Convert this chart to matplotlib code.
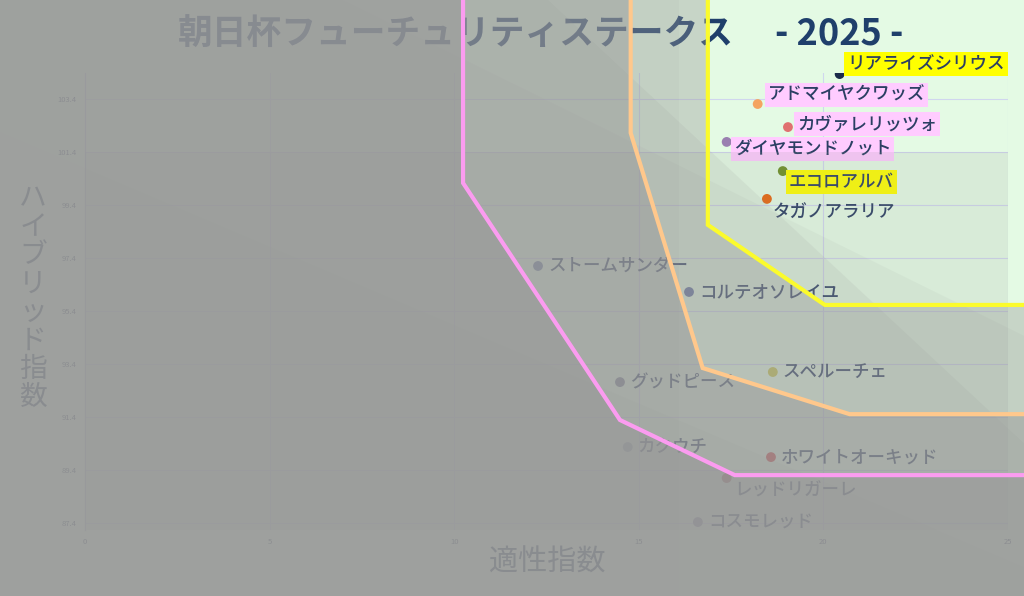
import matplotlib
matplotlib.use('Agg')
import matplotlib.pyplot as plt
from matplotlib.patches import Polygon, Rectangle
import numpy as np

plt.rcParams['font.family'] = ['Noto Sans CJK JP', 'DejaVu Sans']

# horses: aptitude index (x), hybrid index (y)
names = ['リアライズシリウス', 'アドマイヤクワッズ', 'カヴァレリッツォ', 'ダイヤモンドノット',
         'エコロアルバ', 'タガノアラリア', 'ストームサンダー', 'コルテオソレイユ',
         'スペルーチェ', 'グッドピース', 'カクウチ', 'ホワイトオーキッド',
         'レッドリガーレ', 'コスモレッド']
aptitude = [20.44, 18.22, 19.04, 17.38, 18.90, 18.47, 12.27, 16.36,
            18.63, 14.49, 14.70, 18.58, 17.38, 16.60]
hybrid = [104.34, 103.21, 102.34, 101.78, 100.68, 99.63, 97.10, 96.12,
          93.10, 92.72, 90.27, 89.89, 89.10, 87.44]
dot_colors = ['#1b2a4a', '#f4a460', '#e07070', '#9a7fb0', '#6b8e23', '#e8650c',
              '#6a7fa0', '#6070a0', '#c8c850', '#707890', '#8aa0b0', '#d04040',
              '#a05050', '#8080a0']
highlight = {'リアライズシリウス': '#ffff00', 'エコロアルバ': '#ffff00',
             'アドマイヤクワッズ': '#ffccff', 'カヴァレリッツォ': '#ffccff',
             'ダイヤモンドノット': '#ffccff'}
# label offsets in pixels (dx, dy, screen y down)
label_off = {'リアライズシリウス': (8, -10), 'アドマイヤクワッズ': (10, -9),
             'カヴァレリッツォ': (9, -3), 'ダイヤモンドノット': (7, 7),
             'エコロアルバ': (6, 11), 'タガノアラリア': (6, 14),
             'レッドリガーレ': (8, 13)}

xticks = [0, 5, 10, 15, 20, 25]
yticks = [87.4, 89.4, 91.4, 93.4, 95.4, 97.4, 99.4, 101.4, 103.4]

# frontier lines (inner vertices, extended to the figure top and right edges)
pink_x = [10.24, 10.24, 14.49, 17.60]
pink_y = [None, 100.23, 91.29, 89.21]
orange_x = [14.78, 14.78, 16.73, 20.71]
orange_y = [None, 102.12, 93.25, 91.51]
yellow_x = [16.87, 16.87, 20.04]
yellow_y = [None, 98.65, 95.63]

W, H = 1024, 596
fig = plt.figure(figsize=(W / 100, H / 100), dpi=100)
fig.patch.set_facecolor('#e4fae4')
ax = fig.add_axes([85 / W, 1 - 530 / H, (1008 - 85) / W, (530 - 73) / H])
ax.set_facecolor('none')
ax.set_xlim(0, 25)
ax.set_ylim(87.14, 104.38)

for s in ['top', 'right', 'bottom']:
    ax.spines[s].set_visible(False)
ax.spines['left'].set_color('#b8bcd8')
ax.spines['left'].set_linewidth(0.8)
ax.set_xticks(xticks)
ax.set_yticks(yticks)
ax.set_xticklabels([str(t) for t in xticks])
ax.set_yticklabels([f'{t:.1f}' for t in yticks])
ax.tick_params(length=0, labelsize=5.5, labelcolor='#445070', pad=6)
ax.grid(True, color='#d0d6ee', linewidth=0.8)
ax.set_axisbelow(True)

# points and labels
ax.scatter(aptitude, hybrid, s=50, c=dot_colors, zorder=4, linewidths=0)
for n, x, y in zip(names, aptitude, hybrid):
    dx, dy = label_off.get(n, (10, 0))
    kw = {}
    if n in highlight:
        kw['bbox'] = dict(boxstyle='square,pad=0.18', fc=highlight[n], ec='none')
    ax.annotate(n, (x, y), xytext=(dx * 0.72, -dy * 0.72), textcoords='offset points',
                ha='left', va='center', fontsize=12.6, color='#2b3f63',
                fontweight='medium', zorder=5, annotation_clip=False, **kw)

# titles and axis labels (drawn inside the axes so overlays cover them)
ax.text(178 / W, 1 - 34 / H, '朝日杯フューチュリティステークス', transform=fig.transFigure,
        ha='left', va='center', fontsize=25, fontweight='bold', color='#1f3f6b',
        zorder=3, clip_on=False)
ax.text(775 / W, 1 - 34 / H, '- 2025 -', transform=fig.transFigure,
        ha='left', va='center', fontsize=26, fontweight='bold', color='#1f3f6b',
        zorder=3, clip_on=False)
ax.text(33 / W, 1 - 298 / H, '\n'.join('ハイブリッド指数'), transform=fig.transFigure,
        ha='center', va='center', fontsize=20, color='#2b3f63', linespacing=0.93,
        zorder=3, clip_on=False)
ax.text(547 / W, 1 - 563 / H, '適性指数', transform=fig.transFigure,
        ha='center', va='center', fontsize=21, color='#2b3f63', zorder=3, clip_on=False)

# figure extents in data coordinates
fig.canvas.draw()
inv = ax.transData.inverted()
fx0, fy0 = inv.transform((0, 0))
fx1, fy1 = inv.transform((W, H))
fx0, fy0, fx1, fy1 = fx0 - 0.5, fy0 - 0.5, fx1 + 0.5, fy1 + 0.5


def frontier(xs, ys):
    pts = [(xs[0], fy1)] + list(zip(xs[1:], ys[1:]))
    pts.append((fx1, ys[-1]))
    return pts


def outside(pts):
    return pts + [(fx1, fy0), (fx0, fy0), (fx0, fy1)]


def below_line(p, q):
    k = (q[1] - p[1]) / (q[0] - p[0])
    ya = p[1] + k * (fx0 - p[0])
    yb = p[1] + k * (fx1 - p[0])
    return [(fx0, ya), (fx1, yb), (fx1, fy0), (fx0, fy0)]


gray = '#969696'
# soft bands
ax.add_patch(Rectangle((0, 87.14), 25, 101.4 - 87.14, fc=gray, ec='none',
                       alpha=0.15, zorder=9))
ax.add_patch(Polygon(below_line((12.54, 107.14), (25.43, 90.42)), fc=gray, ec='none',
                     alpha=0.12, zorder=9, clip_on=False))
ax.add_patch(Polygon(below_line((6.99, 107.14), (11.56, 104.0)), fc=gray, ec='none',
                     alpha=0.08, zorder=9, clip_on=False))
ax.add_patch(Polygon(below_line((-2.30, 102.15), (3.11, 98.95)), fc=gray, ec='none',
                     alpha=0.08, zorder=9, clip_on=False))
ax.add_patch(Rectangle((fx0, fy0), 16.1 - fx0, fy1 - fy0, fc=gray, ec='none',
                       alpha=0.08, zorder=9, clip_on=False))

lines = [(yellow_x, yellow_y, '#fbfb2c', 0.36),
         (orange_x, orange_y, '#ffc88c', 0.45),
         (pink_x, pink_y, '#fb9cf0', 0.55)]
for xs, ys, col, a in lines:
    pts = frontier(xs, ys)
    ax.add_patch(Polygon(outside(pts), fc=gray, ec='none', alpha=a, zorder=10,
                         clip_on=False))
for xs, ys, col, a in lines:
    pts = np.array(frontier(xs, ys))
    ax.plot(pts[:, 0], pts[:, 1], color=col, lw=3.0, zorder=12, clip_on=False,
            solid_joinstyle='miter')

fig.savefig('out.png', dpi=100, facecolor=fig.get_facecolor())
